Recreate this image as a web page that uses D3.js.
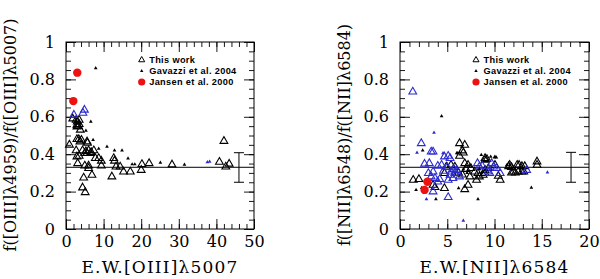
<!DOCTYPE html>
<html>
<head>
<meta charset="utf-8">
<script src="https://cdn.jsdelivr.net/npm/d3@7"></script>
<style>
  body { margin: 0; background: #fff; }
  svg { display: block; }
</style>
</head>
<body>
<div id="chart"></div>
<script>
// ---- data ----
// left panel: [OIII] ratio vs E.W.[OIII]5007
var oiiiThisWork = [[1.8,0.59],[3.0,0.574],[3.5,0.56],[2.7,0.583],[3.5,0.583],[2.9,0.556],[3.3,0.55],[3.8,0.53],[2.9,0.547],
  [2.9,0.48],[3.4,0.48],[4.1,0.476],[5.6,0.467],[3.7,0.467],[5.7,0.46],[0.9,0.45],
  [2.7,0.42],[4.4,0.42],[5.3,0.415],[6.0,0.42],[6.7,0.41],[7.4,0.42],
  [2.9,0.387],[3.5,0.39],[5.0,0.405],[5.6,0.405],[6.5,0.405],
  [7.8,0.378],[8.7,0.378],[9.4,0.364],[12.7,0.378],[12.9,0.364],
  [3.1,0.351],[5.0,0.338],[6.0,0.338],[9.4,0.338],[6.0,0.325],
  [13.3,0.333],[14.4,0.333],[15.3,0.306],[17.1,0.306],[20.2,0.346],[22.1,0.351],[20.0,0.315],
  [4.7,0.274],[6.9,0.289],[12.2,0.28],[4.4,0.221],[5.1,0.196],
  [28.2,0.344],[42.0,0.47],[40.8,0.358],[42.5,0.333],[43.4,0.348]];
var oiiiThisWorkBlue = [[2.1,0.61],[4.5,0.62],[4.9,0.637]];
var oiiiGavazzi = [[7.9,0.86],[6.6,0.574],[5.3,0.526],[7.2,0.476],[8.7,0.43],[10.9,0.44],[12.9,0.42],[14.9,0.42],
  [16.5,0.378],[17.6,0.346],[18.3,0.346],[25.1,0.355],[31.5,0.344]];
var oiiiGavazziBlue = [[37.6,0.357],[38.2,0.36]];
var oiiiJansen = [[3.0,0.836],[1.95,0.684]];

// right panel: [NII] ratio vs E.W.[NII]6584
var niiThisWork = [[6.85,0.449],[6.3,0.458],[6.6,0.419],[6.7,0.408],[6.3,0.39],[5.4,0.342],[5.8,0.333],[4.9,0.333],
  [6.85,0.351],[7.2,0.342],[9.0,0.369],[1.4,0.262],[2.0,0.266],[3.5,0.235],[3.7,0.223],[4.7,0.218],[6.85,0.212],
  [7.2,0.235],[7.5,0.325],[7.9,0.306],[8.25,0.298],[8.8,0.289],[7.4,0.28],[8.1,0.262],[8.4,0.28],[9.0,0.315],
  [9.0,0.378],[10.05,0.342],[10.6,0.262],[9.0,0.298],[9.35,0.325],[11.5,0.335],[11.8,0.33],[11.8,0.301],[12.2,0.301],
  [12.4,0.342],[12.9,0.306],[13.1,0.306],[12.9,0.335],[13.2,0.335],[14.5,0.36],[14.5,0.342],[10.4,0.283],[11.6,0.342],
  [12.6,0.342],[12.0,0.306],[12.5,0.306],[4.7,0.298],[9.2,0.373],[6.2,0.3],[6.6,0.29],[7.0,0.32]];
var niiThisWorkBlue = [[1.35,0.734],[2.25,0.458],[3.3,0.413],[3.5,0.413],[4.7,0.387],[5.1,0.39],[5.3,0.378],[3.1,0.351],
  [2.6,0.348],[4.0,0.337],[4.4,0.342],[5.4,0.306],[5.3,0.289],[5.8,0.298],[5.1,0.262],[5.6,0.271],[6.0,0.315],[6.3,0.28],
  [4.0,0.253],[4.2,0.266],[3.3,0.28],[3.0,0.298],[3.5,0.306],[3.7,0.271],[3.5,0.2],[5.1,0.17],[8.2,0.351],[8.4,0.333],
  [8.7,0.337],[9.7,0.351],[10.2,0.325],[10.6,0.298],[13.4,0.315],[9.9,0.333],[9.3,0.306],[9.5,0.298],[5.0,0.33],
  [5.7,0.32],[4.6,0.31]];
var niiGavazzi = [[4.4,0.604],[2.4,0.42],[6.0,0.405],[6.1,0.405],[1.7,0.209],[3.8,0.159],[2.3,0.22],[8.25,0.16],
  [6.7,0.32],[7.1,0.3],[7.4,0.34],[8.4,0.32],[8.6,0.396],[9.6,0.387],[10.05,0.387],[11.3,0.342],[11.6,0.342],
  [13.9,0.221],[6.2,0.218],[10.0,0.383],[10.2,0.383]];
var niiGavazziBlue = [[3.6,0.515],[1.8,0.408],[4.55,0.405],[2.8,0.159],[6.7,0.044],[15.6,0.303]];
var niiJansen = [[2.9,0.253],[2.6,0.209]];

// mean ratio line and error bar [x, low, high]
var meanRatio = 0.33;
var oiiiErr = [46, 0.25, 0.408];
var niiErr = [18.1, 0.25, 0.41];

var legendLabels = ["This work", "Gavazzi et al. 2004", "Jansen et al. 2000"];

var BLUE = "#2b2bd0", RED = "#ee1111";

var svg = d3.select("#chart").append("svg")
  .attr("width", 600).attr("height", 279);

function panel(opt) {
  var x = d3.scaleLinear().domain(opt.xDomain).range(opt.xRange);
  var y = d3.scaleLinear().domain([0, 1]).range([229, 42]);
  var g = svg.append("g");
  var tickFont = "DejaVu Serif, serif";

  // minor ticks (all four sides)
  var xMinor = d3.range(opt.xDomain[0], opt.xDomain[1] + 1e-9, opt.xMinor);
  var yMinor = d3.range(0, 1 + 1e-9, 0.05);
  g.append("g").attr("transform", "translate(0,229)")
    .call(d3.axisBottom(x).tickValues(xMinor).tickSize(-5).tickFormat(""));
  g.append("g").attr("transform", "translate(0,42)")
    .call(d3.axisTop(x).tickValues(xMinor).tickSize(-5).tickFormat(""));
  g.append("g").attr("transform", "translate(" + opt.xRange[0] + ",0)")
    .call(d3.axisLeft(y).tickValues(yMinor).tickSize(-5).tickFormat(""));
  g.append("g").attr("transform", "translate(" + opt.xRange[1] + ",0)")
    .call(d3.axisRight(y).tickValues(yMinor).tickSize(-5).tickFormat(""));

  // major ticks
  var xMajor = d3.range(opt.xDomain[0], opt.xDomain[1] + 1e-9, opt.xMajor);
  var yMajor = d3.range(0, 1 + 1e-9, 0.2);
  var fmt = d3.format("~g");
  g.append("g").attr("transform", "translate(0,229)")
    .call(d3.axisBottom(x).tickValues(xMajor).tickSize(-10).tickPadding(7).tickFormat(fmt));
  g.append("g").attr("transform", "translate(0,42)")
    .call(d3.axisTop(x).tickValues(xMajor).tickSize(-10).tickFormat(""));
  g.append("g").attr("transform", "translate(" + opt.xRange[0] + ",0)")
    .call(d3.axisLeft(y).tickValues(yMajor).tickSize(-10).tickPadding(11).tickFormat(fmt));
  g.append("g").attr("transform", "translate(" + opt.xRange[1] + ",0)")
    .call(d3.axisRight(y).tickValues(yMajor).tickSize(-10).tickFormat(""));

  g.selectAll(".domain").remove();
  g.selectAll(".tick line").attr("stroke", "#000").attr("stroke-width", 0.9);
  g.selectAll(".tick text").attr("font-family", tickFont).attr("font-size", 16).attr("fill", "#000");

  // frame
  g.append("rect")
    .attr("x", opt.xRange[0]).attr("y", 42)
    .attr("width", opt.xRange[1] - opt.xRange[0]).attr("height", 187)
    .attr("fill", "none").attr("stroke", "#000").attr("stroke-width", 1);

  // axis titles
  g.append("text")
    .attr("x", (opt.xRange[0] + opt.xRange[1]) / 2).attr("y", 273)
    .attr("text-anchor", "middle")
    .attr("font-family", tickFont).attr("font-size", 17).attr("letter-spacing", 1.2)
    .text(opt.xTitle);
  g.append("text")
    .attr("transform", "translate(" + opt.yTitleX + ",135) rotate(-90)")
    .attr("text-anchor", "middle")
    .attr("font-family", tickFont).attr("font-size", 16)
    .text(opt.yTitle);

  // mean line and error bar
  g.append("line")
    .attr("x1", x(opt.xDomain[0])).attr("x2", x(opt.xDomain[1]))
    .attr("y1", y(meanRatio)).attr("y2", y(meanRatio))
    .attr("stroke", "#000").attr("stroke-width", 1);
  var e = opt.err;
  g.append("path")
    .attr("d", "M" + x(e[0]) + "," + y(e[1]) + "V" + y(e[2]) +
      "M" + (x(e[0]) - 5) + "," + y(e[1]) + "h10" +
      "M" + (x(e[0]) - 5) + "," + y(e[2]) + "h10")
    .attr("stroke", "#000").attr("fill", "none").attr("stroke-width", 1);

  var big = d3.symbol(d3.symbolTriangle, 26)();
  var small = d3.symbol(d3.symbolTriangle, 6)();

  function opens(data, color) {
    g.append("g").selectAll("path").data(data).enter().append("path")
      .attr("d", big)
      .attr("transform", function (d) { return "translate(" + x(d[0]) + "," + y(d[1]) + ")"; })
      .attr("fill", "none").attr("stroke", color).attr("stroke-width", 1.1);
  }
  function smalls(data, color) {
    g.append("g").selectAll("path").data(data).enter().append("path")
      .attr("d", small)
      .attr("transform", function (d) { return "translate(" + x(d[0]) + "," + y(d[1]) + ")"; })
      .attr("fill", color);
  }
  opens(opt.thisWork, "#000");
  opens(opt.thisWorkBlue, BLUE);
  smalls(opt.gav, "#000");
  smalls(opt.gavBlue, BLUE);
  g.append("g").selectAll("circle").data(opt.jansen).enter().append("circle")
    .attr("cx", function (d) { return x(d[0]); })
    .attr("cy", function (d) { return y(d[1]); })
    .attr("r", 4.2).attr("fill", RED);

  // legend
  var lg = g.append("g").attr("transform", "translate(" + opt.legendX + ",0)");
  var rows = [60, 71, 82];
  lg.append("path").attr("d", d3.symbol(d3.symbolTriangle, 16)())
    .attr("transform", "translate(0," + rows[0] + ")")
    .attr("fill", "none").attr("stroke", "#000").attr("stroke-width", 1);
  lg.append("path").attr("d", d3.symbol(d3.symbolTriangle, 5)())
    .attr("transform", "translate(0," + rows[1] + ")").attr("fill", "#000");
  lg.append("circle").attr("cx", 0).attr("cy", rows[2]).attr("r", 3.6).attr("fill", RED);
  lg.selectAll("text").data(legendLabels).enter().append("text")
    .attr("x", 7.5).attr("y", function (d, i) { return rows[i] + 3.3; })
    .attr("font-family", "Liberation Sans, Arial, sans-serif")
    .attr("font-weight", "bold").attr("font-size", 9.2).attr("letter-spacing", 0.35)
    .text(function (d) { return d; });
}

panel({
  xDomain: [0, 50], xRange: [66, 254], xMajor: 10, xMinor: 2,
  xTitle: "E.W.[OIII]\u03bb5007", yTitle: "f([OIII]\u03bb4959)/f([OIII]\u03bb5007)", yTitleX: 16,
  err: oiiiErr, legendX: 141.7,
  thisWork: oiiiThisWork, thisWorkBlue: oiiiThisWorkBlue,
  gav: oiiiGavazzi, gavBlue: oiiiGavazziBlue, jansen: oiiiJansen
});
panel({
  xDomain: [0, 20], xRange: [400, 589], xMajor: 5, xMinor: 1,
  xTitle: "E.W.[NII]\u03bb6584", yTitle: "f([NII]\u03bb6548)/f([NII]\u03bb6584)", yTitleX: 350,
  err: niiErr, legendX: 476,
  thisWork: niiThisWork, thisWorkBlue: niiThisWorkBlue,
  gav: niiGavazzi, gavBlue: niiGavazziBlue, jansen: niiJansen
});
</script>
</body>
</html>
